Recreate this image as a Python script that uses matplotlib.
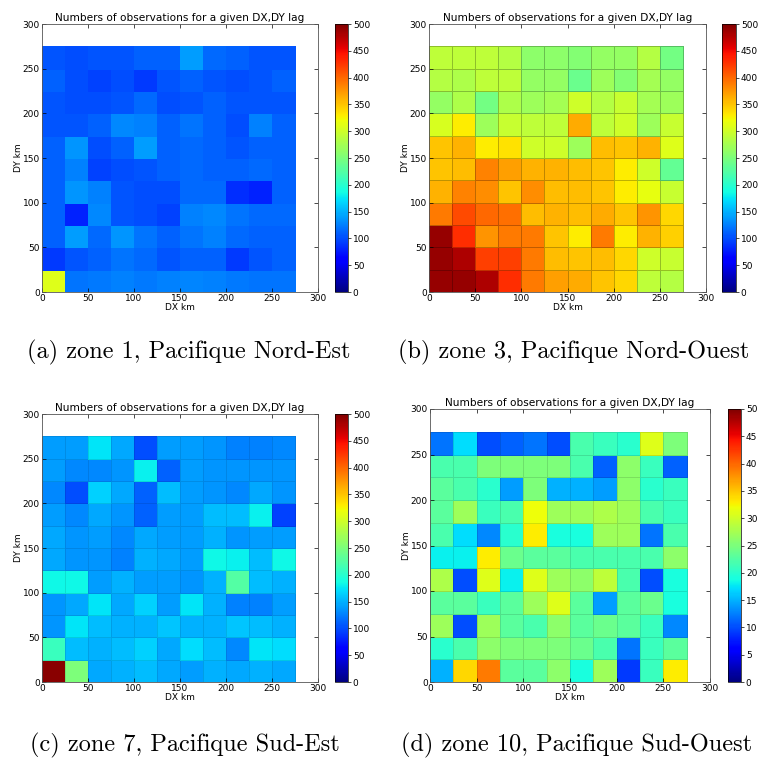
import matplotlib
matplotlib.use("Agg")
import matplotlib.pyplot as plt
import numpy as np

# cell edges of the DX, DY lag grid (km)
edges = np.arange(0, 276, 25)

# counts per lag cell, rows from DY=0 (bottom) to DY=250 (top)
zone1 = [
    [310, 120, 122, 125, 122, 125, 127, 125, 122, 120, 120],
    [90, 105, 110, 120, 115, 105, 110, 110, 90, 105, 110],
    [110, 140, 115, 135, 120, 110, 120, 125, 115, 110, 110],
    [110, 80, 130, 105, 100, 95, 125, 130, 120, 115, 115],
    [110, 135, 125, 105, 100, 100, 115, 115, 85, 80, 110],
    [110, 125, 95, 100, 105, 110, 115, 110, 110, 115, 110],
    [110, 135, 100, 110, 140, 110, 115, 110, 105, 110, 110],
    [105, 105, 110, 130, 125, 110, 120, 110, 100, 125, 110],
    [105, 100, 100, 105, 115, 100, 105, 110, 105, 105, 105],
    [110, 100, 95, 100, 90, 105, 110, 105, 100, 105, 110],
    [105, 100, 105, 105, 110, 110, 140, 115, 110, 105, 105],
]

zone3 = [
    [490, 490, 480, 430, 390, 370, 365, 350, 340, 290, 285],
    [490, 480, 420, 420, 390, 355, 350, 355, 340, 300, 295],
    [490, 430, 375, 390, 390, 350, 330, 390, 330, 360, 345],
    [390, 415, 400, 395, 355, 360, 355, 365, 350, 375, 340],
    [360, 385, 380, 350, 380, 355, 355, 350, 330, 315, 295],
    [350, 355, 385, 370, 360, 360, 355, 350, 330, 300, 235],
    [350, 360, 330, 335, 300, 300, 270, 355, 350, 360, 310],
    [305, 330, 270, 295, 290, 290, 365, 290, 300, 270, 295],
    [265, 280, 245, 280, 270, 275, 300, 285, 295, 275, 270],
    [285, 280, 290, 290, 265, 265, 240, 270, 255, 275, 265],
    [290, 290, 290, 285, 260, 260, 255, 265, 265, 285, 245],
]

zone7 = [
    [495, 250, 145, 150, 155, 145, 140, 150, 145, 150, 145],
    [210, 155, 150, 155, 165, 145, 170, 155, 130, 175, 170],
    [135, 175, 155, 150, 150, 160, 150, 150, 160, 155, 150],
    [135, 145, 175, 145, 165, 140, 175, 150, 125, 125, 140],
    [185, 185, 140, 150, 140, 140, 135, 150, 225, 155, 150],
    [145, 135, 135, 125, 150, 145, 140, 185, 180, 155, 185],
    [145, 135, 140, 130, 145, 140, 140, 150, 135, 140, 140],
    [140, 130, 145, 135, 110, 140, 140, 155, 155, 180, 95],
    [130, 100, 165, 145, 110, 155, 140, 135, 130, 145, 135],
    [140, 130, 130, 135, 180, 110, 140, 135, 135, 135, 135],
    [140, 140, 175, 145, 100, 140, 140, 135, 125, 125, 130],
]

zone10 = [
    [15, 34, 39, 23, 23, 26, 19, 27, 9, 21, 33],
    [20, 22, 26, 25, 25, 25, 24, 22, 12, 21, 23],
    [27, 10, 27, 23, 22, 26, 23, 24, 23, 21, 13],
    [23, 23, 21, 23, 27, 31, 23, 14, 23, 24, 19],
    [28, 10, 31, 18, 31, 27, 26, 29, 22, 10, 19],
    [18, 18, 33, 24, 23, 23, 22, 22, 22, 22, 26],
    [22, 17, 13, 20, 33, 19, 19, 27, 27, 12, 22],
    [23, 27, 21, 22, 32, 27, 27, 28, 27, 22, 21],
    [23, 22, 20, 14, 25, 15, 15, 14, 26, 20, 21],
    [22, 22, 25, 25, 25, 25, 22, 11, 26, 21, 11],
    [12, 17, 10, 11, 12, 10, 22, 21, 20, 31, 25],
]

captions = [
    "(a) zone 1, Pacifique Nord-Est",
    "(b) zone 3, Pacifique Nord-Ouest",
    "(c) zone 7, Pacifique Sud-Est",
    "(d) zone 10, Pacifique Sud-Ouest",
]
vmaxes = [500, 500, 500, 50]
title = "Numbers of observations for a given DX,DY lag"

W, H = 765, 760


def px_rect(x0, y0, x1, y1):
    # pixel box (top-left origin) -> figure fraction
    return [x0 / W, 1 - y1 / H, (x1 - x0) / W, (y1 - y0) / H]


# axes box, colorbar box, caption centre (all in pixels)
layout = [
    ((42, 24, 318, 292), (335, 24, 348, 292), (189, 352)),
    ((429, 24, 706, 292), (722, 24, 736, 292), (574, 352)),
    ((42, 414, 318, 682), (335, 414, 348, 682), (185, 745)),
    ((430, 409, 710, 682), (728, 409, 741, 682), (577, 745)),
]

fig = plt.figure(figsize=(W / 100, H / 100), dpi=100)

grids = [zone1, zone3, zone7, zone10]
edge_alpha = [0.0, 0.25, 0.1, 0.12]

for grid, vmax, cap, (abox, cbox, cpos), ea in zip(grids, vmaxes, captions, layout, edge_alpha):
    ax = fig.add_axes(px_rect(*abox))
    mesh = ax.pcolormesh(edges, edges, np.array(grid), cmap="jet", vmin=0, vmax=vmax,
                         edgecolors=(0, 0, 0, ea), linewidth=0.6)
    ax.set_xlim(0, 300)
    ax.set_ylim(0, 300)
    ax.set_xticks(range(0, 301, 50))
    ax.set_yticks(range(0, 301, 50))
    ax.tick_params(direction="in", labelsize=6.5, length=3, width=0.5, pad=1.5,
                   top=True, right=True)
    for s in ax.spines.values():
        s.set_linewidth(0.6)
        s.set_color("#555555")
    ax.set_title(title, fontsize=7.6, pad=2)
    ax.set_xlabel("DX km", fontsize=6.5, labelpad=0)
    ax.set_ylabel("DY km", fontsize=6.5, labelpad=0)

    cax = fig.add_axes(px_rect(*cbox))
    cb = fig.colorbar(mesh, cax=cax, ticks=np.linspace(0, vmax, 11))
    cb.ax.tick_params(labelsize=6.5, length=2, width=0.5, pad=1.5)
    cb.outline.set_linewidth(0.5)

    fig.text(cpos[0] / W, 1 - cpos[1] / H, cap, ha="center", va="center",
             fontsize=17.5, family="cmr10")

fig.savefig("out.png", dpi=100)
